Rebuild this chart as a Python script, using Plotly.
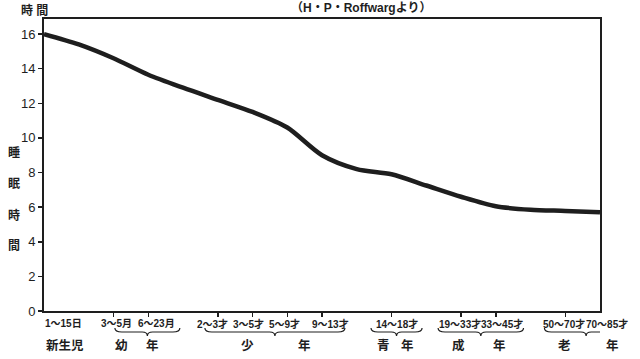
import plotly.graph_objects as go

# ---- data ----
age_labels = ["1～15日", "3～5月", "6～23月", "2～3才", "3～5才", "5～9才",
              "9～13才", "14～18才", "19～33才", "33～45才", "50～70才", "70～85才"]
age_pos = [0, 2, 3, 5, 6, 7, 8, 10, 12, 13, 15, 16]

curve_pos = [0, 1, 2, 3, 4, 5, 6, 7, 8, 9, 10, 11, 12, 13, 14, 15, 16]
sleep_hours = [16.0, 15.4, 14.6, 13.65, 12.9, 12.2, 11.5, 10.6, 9.0, 8.2,
               7.9, 7.25, 6.6, 6.05, 5.85, 5.78, 5.7]

y_ticks = [0, 2, 4, 6, 8, 10, 12, 14, 16]

group_chars = ["新生児", "幼", "年", "少", "年", "青", "年", "成", "年", "老", "年"]
group_char_x = [0.6, 2.24, 3.11, 5.87, 7.51, 9.78, 10.47, 11.94, 13.12, 14.99, 16.35]
brace_spans = [(2.04, 3.91), (4.63, 8.66), (9.41, 10.88), (11.34, 13.8), (14.4, 16.8)]
label_xshift = [19, 3, 8, -5, -4, -3, 8, 5, -1, 6, -1, 7]

INK = "#1e1e1e"
FONT = "Liberation Sans, Noto Sans CJK JP, sans-serif"
W, H = 640, 359
L, R, T, B = 44, 40, 19, 48
PW, PH = W - L - R, H - T - B
XMAX = 16

def px_x(px):
    return (px - L) / PW

def px_y(py):
    return (H - B - py) / PH

fig = go.Figure()
fig.add_trace(go.Scatter(
    x=curve_pos, y=sleep_hours, mode="lines",
    line=dict(color=INK, width=4.5, shape="spline", smoothing=0.8),
    hoverinfo="skip", showlegend=False,
))

annotations = []
for lab, p, xs in zip(age_labels, age_pos, label_xshift):
    annotations.append(dict(x=p / XMAX, y=px_y(316), xref="paper", yref="paper",
                            text="<b>%s</b>" % lab,
                            showarrow=False, xanchor="center", yanchor="top", xshift=xs,
                            font=dict(size=10, color=INK, family=FONT)))
for ch, gx in zip(group_chars, group_char_x):
    annotations.append(dict(x=gx / XMAX, y=px_y(345), xref="paper", yref="paper",
                            text="<b>%s</b>" % ch,
                            showarrow=False, xanchor="center", yanchor="middle",
                            font=dict(size=12.5, color=INK, family=FONT)))
annotations.append(dict(x=px_x(361), y=px_y(8), xref="paper", yref="paper",
                        text="<b>（H・P・Roffwargより）</b>", showarrow=False,
                        xanchor="center", yanchor="middle",
                        font=dict(size=12, color=INK, family=FONT)))
annotations.append(dict(x=px_x(34), y=px_y(11), xref="paper", yref="paper",
                        text="<b>時 間</b>", showarrow=False, xanchor="center", yanchor="middle",
                        font=dict(size=12, color=INK, family=FONT)))
for k, ch in enumerate("睡眠時間"):
    annotations.append(dict(x=px_x(14), y=px_y(153 + k * 31), xref="paper", yref="paper",
                            text="<b>%s</b>" % ch, showarrow=False,
                            xanchor="center", yanchor="middle",
                            font=dict(size=12, color=INK, family=FONT)))

shapes = []
yb = px_y(332)
d = 4.0 / PH
for (a, b) in brace_spans:
    m = (a + b) / 2
    shapes.append(dict(
        type="path", xref="x", yref="paper",
        path="M %f,%f Q %f,%f %f,%f L %f,%f Q %f,%f %f,%f Q %f,%f %f,%f L %f,%f Q %f,%f %f,%f" % (
            a, yb + d, a, yb, a + 0.2, yb,
            m - 0.15, yb,
            m, yb, m, yb - d,
            m, yb, m + 0.15, yb,
            b - 0.2, yb,
            b, yb, b, yb + d),
        line=dict(color=INK, width=1.2)))

fig.update_layout(
    width=W, height=H,
    margin=dict(l=L, r=R, t=T, b=B, autoexpand=False),
    paper_bgcolor="white", plot_bgcolor="white",
    annotations=annotations, shapes=shapes,
    xaxis=dict(range=[0, XMAX], tickvals=age_pos[1:-1], ticktext=[""] * (len(age_pos) - 2),
               ticks="outside", ticklen=4, tickwidth=1.5, tickcolor=INK,
               showgrid=False, zeroline=False, showline=True, linecolor=INK, linewidth=2,
               mirror=True, fixedrange=True, automargin=False),
    yaxis=dict(range=[0, 16.87], tickvals=y_ticks, ticks="outside", ticklen=4, tickwidth=1.5,
               tickcolor=INK, showgrid=False, zeroline=False, showline=True, linecolor=INK,
               linewidth=2, mirror=True, automargin=False,
               tickfont=dict(size=13, color=INK, family=FONT), fixedrange=True),
    font=dict(family=FONT, color=INK),
)

fig.write_html("out.html", config={"displayModeBar": False, "staticPlot": True},
               post_script="document.body.style.margin='0';document.body.style.overflow='hidden';")
